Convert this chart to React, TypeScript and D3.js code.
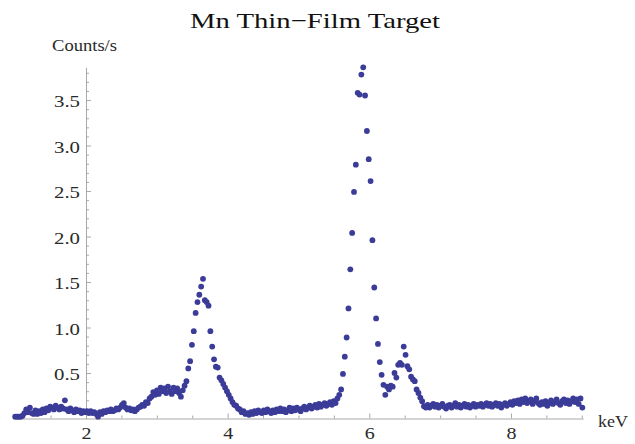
import React, { useEffect, useRef } from 'react'
import * as d3 from 'd3'

const title = 'Mn Thin\u2212Film Target'
const xLabel = 'keV'
const yLabel = 'Counts/s'

const xMajorTicks = [2, 4, 6, 8]
const xMinorTicks = [1, 1.5, 2.5, 3, 3.5, 4.5, 5, 5.5, 6.5, 7, 7.5, 8.5, 9]
const yMajorTicks = [0.5, 1.0, 1.5, 2.0, 2.5, 3.0, 3.5]

// detector channel calibration (keV of first channel, keV per channel)
const channelStart = 1.0
const channelWidth = 0.026

// counts/s per channel
const counts = [
  0.02, 0.02, 0.02, 0.02, 0.03, 0.06, 0.10, 0.07, 0.12, 0.06,
  0.05, 0.09, 0.05, 0.08, 0.06, 0.10, 0.07, 0.11, 0.09, 0.13,
  0.12, 0.10, 0.14, 0.12, 0.10, 0.13, 0.11, 0.20, 0.10, 0.08,
  0.11, 0.09, 0.07, 0.10, 0.08, 0.09, 0.06, 0.08, 0.07, 0.08,
  0.06, 0.08, 0.06, 0.07, 0.05, 0.02, 0.07, 0.05, 0.08, 0.07,
  0.09, 0.08, 0.10, 0.08, 0.09, 0.11, 0.10, 0.12, 0.15, 0.17,
  0.12, 0.10, 0.11, 0.09, 0.10, 0.08, 0.10, 0.12, 0.13, 0.15,
  0.14, 0.18, 0.17, 0.22, 0.24, 0.29, 0.26, 0.31, 0.27, 0.34,
  0.30, 0.33, 0.28, 0.35, 0.30, 0.27, 0.34, 0.30, 0.33, 0.28,
  0.24, 0.31, 0.36, 0.41, 0.55, 0.63, 0.81, 0.96, 1.16, 1.28,
  1.36, 1.45, 1.535, 1.30, 1.28, 1.24, 0.96, 0.79, 0.65, 0.57,
  0.56, 0.45, 0.42, 0.38, 0.34, 0.30, 0.26, 0.22, 0.18, 0.15,
  0.14, 0.11, 0.10, 0.07, 0.08, 0.05, 0.06, 0.04, 0.07, 0.05,
  0.08, 0.06, 0.09, 0.07, 0.06, 0.09, 0.07, 0.10, 0.08, 0.06,
  0.09, 0.07, 0.10, 0.08, 0.11, 0.08, 0.10, 0.07, 0.09, 0.12,
  0.08, 0.11, 0.09, 0.12, 0.10, 0.08, 0.11, 0.13, 0.10, 0.12,
  0.14, 0.11, 0.13, 0.15, 0.12, 0.16, 0.13, 0.15, 0.17, 0.14,
  0.16, 0.18, 0.15, 0.19, 0.17, 0.22, 0.26, 0.32, 0.49, 0.68,
  0.89, 1.21, 1.64, 2.04, 2.49, 2.79, 3.58, 3.56, 3.78, 3.86,
  3.55, 3.16, 2.85, 2.61, 1.96, 1.44, 1.10, 0.82, 0.62, 0.48,
  0.37, 0.26, 0.35, 0.32, 0.36, 0.35, 0.50, 0.45, 0.59, 0.61,
  0.59, 0.79, 0.70, 0.575, 0.54, 0.46, 0.43, 0.41, 0.32, 0.28,
  0.23, 0.19, 0.135, 0.12, 0.15, 0.12, 0.14, 0.16, 0.13, 0.15,
  0.12, 0.14, 0.16, 0.13, 0.11, 0.14, 0.15, 0.12, 0.14, 0.17,
  0.13, 0.15, 0.12, 0.14, 0.16, 0.13, 0.15, 0.12, 0.14, 0.16,
  0.13, 0.15, 0.14, 0.16, 0.13, 0.15, 0.17, 0.14, 0.16, 0.13,
  0.15, 0.17, 0.14, 0.16, 0.12, 0.15, 0.17, 0.14, 0.16, 0.18,
  0.15, 0.19, 0.17, 0.20, 0.16, 0.21, 0.18, 0.22, 0.17, 0.19,
  0.21, 0.16, 0.19, 0.22, 0.17, 0.15, 0.18, 0.16, 0.19, 0.14,
  0.17, 0.20, 0.16, 0.18, 0.21, 0.17, 0.15, 0.19, 0.21, 0.17,
  0.20, 0.16, 0.19, 0.22, 0.18, 0.21, 0.16, 0.22, 0.12,
]

const width = 635
const height = 444
const font = '"Liberation Serif", "Times New Roman", serif'
const axisColor = '#a9a9a9'
const textColor = '#2a2a2a'
const dotColor = '#3b3b98'

export default function App() {
  const ref = useRef<SVGSVGElement>(null)

  useEffect(() => {
    const svg = d3.select(ref.current)
    svg.selectAll('*').remove()

    const x = d3.scaleLinear().domain([0.98, 9.02]).range([13.75, 583.2])
    const y = d3.scaleLinear().domain([0, 3.86]).range([418.5, 67.3])

    const yMinorTicks = d3.range(1, 39)
      .filter(k => k % 5 !== 0)
      .map(k => k / 10)

    // X axis
    const gx = svg.append('g')
      .attr('transform', `translate(0, ${y(0)})`)
    gx.call(
      d3.axisBottom(x)
        .tickValues(xMajorTicks)
        .tickSize(-5)
        .tickSizeOuter(0)
        .tickPadding(9.5)
        .tickFormat(d3.format('d'))
    )
    gx.append('g').call(
      d3.axisBottom(x)
        .tickValues(xMinorTicks)
        .tickSize(-3)
        .tickSizeOuter(0)
        .tickFormat(() => '')
    ).select('.domain').remove()

    // Y axis, crossing at 2 keV
    const gy = svg.append('g')
      .attr('transform', `translate(${x(2)}, 0)`)
    gy.call(
      d3.axisLeft(y)
        .tickValues(yMajorTicks)
        .tickSize(-5)
        .tickSizeOuter(0)
        .tickPadding(6)
        .tickFormat(d3.format('.1f'))
    )
    gy.append('g').call(
      d3.axisLeft(y)
        .tickValues(yMinorTicks)
        .tickSize(-3)
        .tickSizeOuter(0)
        .tickFormat(() => '')
    ).select('.domain').remove()

    svg.selectAll('.domain').attr('stroke', axisColor)
    svg.selectAll('.tick line').attr('stroke', axisColor)

    gx.selectAll('.tick text')
      .attr('font-family', font)
      .attr('font-size', 16)
      .attr('fill', textColor)
      .attr('textLength', 10)
      .attr('lengthAdjust', 'spacingAndGlyphs')

    gy.selectAll('.tick text')
      .attr('font-family', font)
      .attr('font-size', 17)
      .attr('fill', textColor)
      .attr('dy', '0.4em')
      .attr('textLength', 26)
      .attr('lengthAdjust', 'spacingAndGlyphs')

    // Points
    svg.append('g')
      .selectAll('circle')
      .data(counts)
      .join('circle')
      .attr('cx', (d, i) => x(channelStart + i * channelWidth))
      .attr('cy', d => y(d))
      .attr('r', 2.9)
      .attr('fill', dotColor)

    // Title and labels
    svg.append('text')
      .attr('x', 190)
      .attr('y', 28)
      .attr('font-family', font)
      .attr('font-size', 22)
      .attr('fill', '#111')
      .attr('textLength', 250)
      .attr('lengthAdjust', 'spacingAndGlyphs')
      .text(title)

    svg.append('text')
      .attr('x', 52)
      .attr('y', 51)
      .attr('font-family', font)
      .attr('font-size', 16)
      .attr('fill', textColor)
      .attr('textLength', 65)
      .attr('lengthAdjust', 'spacingAndGlyphs')
      .text(yLabel)

    svg.append('text')
      .attr('x', 598)
      .attr('y', 427)
      .attr('font-family', font)
      .attr('font-size', 16)
      .attr('fill', textColor)
      .attr('textLength', 30)
      .attr('lengthAdjust', 'spacingAndGlyphs')
      .text(xLabel)
  }, [])

  return (
    <svg ref={ref} width={width} height={height}
      style={{ position: 'absolute', left: 0, top: 0, background: '#fff' }}>
    </svg>
  )
}
